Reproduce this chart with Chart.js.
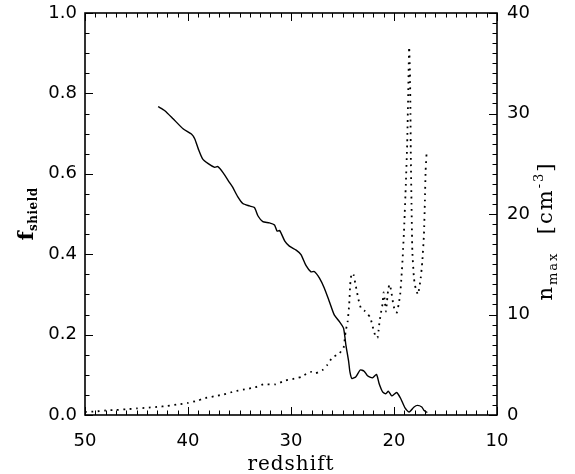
<!DOCTYPE html>
<html>
<head>
<meta charset="utf-8">
<script src="https://cdn.jsdelivr.net/npm/chart.js@4.4.1/dist/chart.umd.min.js"></script>
<style>
  html, body { margin: 0; padding: 0; background: #fff; }
  #wrap { width: 575px; height: 474px; }
</style>
</head>
<body>
<div id="wrap"><canvas id="c" width="575" height="474"></canvas></div>
<script>
// ---- data ----
const zShield = [42.9, 42.25, 41.45, 40.48, 39.67, 39.35, 39.0, 38.6, 38.07, 37.4, 37.1, 36.6, 35.96, 35.65, 35.16, 34.68, 34.03, 33.55, 33.2, 32.74, 32.1, 31.6, 31.35, 31.1, 30.6, 30.16, 29.5, 29.03, 28.55, 28.06, 27.74, 27.25, 26.77, 26.28, 25.8, 25.3, 24.9, 24.67, 24.4, 24.28, 24.09, 23.7, 23.28, 22.9, 22.57, 22.09, 21.7, 21.44, 21.1, 20.8, 20.54, 20.22, 19.74, 19.35, 18.93, 18.54, 18.05, 17.73, 17.3, 17.1, 16.77];
const fShield = [0.767, 0.757, 0.737, 0.712, 0.699, 0.687, 0.662, 0.638, 0.626, 0.616, 0.618, 0.603, 0.578, 0.566, 0.5425, 0.526, 0.52, 0.516, 0.495, 0.481, 0.478, 0.4725, 0.4575, 0.459, 0.4325, 0.42, 0.41, 0.399, 0.372, 0.356, 0.357, 0.341, 0.316, 0.2825, 0.249, 0.2325, 0.216, 0.174, 0.1325, 0.1075, 0.091, 0.095, 0.112, 0.109, 0.0975, 0.0925, 0.101, 0.078, 0.0575, 0.053, 0.059, 0.0475, 0.056, 0.041, 0.0175, 0.0075, 0.02, 0.024, 0.02, 0.012, 0.006];

const zNmax = [50.0, 49.0, 48.0, 47.0, 46.0, 45.0, 44.0, 43.0, 42.0, 41.0, 40.0, 39.0, 38.5, 37.5, 36.5, 35.5, 34.5, 33.5, 32.7, 31.5, 30.5, 29.5, 29.0, 28.4, 28.0, 27.6, 27.2, 26.9, 26.5, 26.0, 25.3, 24.9, 24.7, 24.5, 24.35, 24.25, 24.12, 23.93, 23.7, 23.45, 23.2, 22.9, 22.6, 22.3, 22.1, 21.93, 21.77, 21.6, 21.5, 21.4, 21.28, 21.12, 21.0, 20.88, 20.78, 20.68, 20.55, 20.42, 20.28, 20.1, 19.9, 19.72, 19.55, 19.4, 19.27, 19.15, 19.0, 18.85, 18.72, 18.62, 18.53, 18.45, 18.4, 18.37, 18.3, 18.22, 18.06, 17.9, 17.67, 17.41, 17.25, 17.09, 17.0, 16.93, 16.84];
const nMax = [0.3, 0.35, 0.45, 0.5, 0.57, 0.65, 0.72, 0.8, 0.9, 1.05, 1.2, 1.45, 1.65, 1.85, 2.05, 2.35, 2.55, 2.75, 3.05, 3.05, 3.45, 3.65, 3.8, 4.15, 4.3, 4.15, 4.35, 4.5, 4.95, 5.7, 6.15, 6.65, 8.3, 9.3, 11.0, 13.0, 14.1, 13.95, 12.8, 11.5, 10.6, 10.4, 10.1, 9.7, 8.9, 8.3, 7.7, 7.7, 8.4, 9.3, 10.1, 11.0, 12.2, 11.2, 10.3, 11.3, 12.6, 13.0, 12.4, 11.2, 10.3, 10.2, 11.0, 12.0, 13.8, 15.8, 19.0, 23.0, 27.0, 32.0, 36.6, 34.0, 30.0, 26.0, 21.0, 16.3, 13.6, 12.6, 12.0, 13.6, 15.3, 18.0, 21.3, 24.3, 26.0];

const xTicks = [50, 40, 30, 20, 10];
const yLeftTicks = ["0.0", "0.2", "0.4", "0.6", "0.8", "1.0"];
const yRightTicks = ["0", "10", "20", "30", "40"];

function pairs(xs, ys) {
  const n = Math.min(xs.length, ys.length);
  const out = [];
  for (let i = 0; i < n; i++) out.push({ x: xs[i], y: ys[i] });
  return out;
}

const TICK_FONT = { family: "'DejaVu Sans', sans-serif", size: 18 };

function drawRich(ctx, parts, cx, cy, angle, spacing) {
  ctx.save();
  ctx.translate(cx, cy);
  ctx.rotate(angle);
  ctx.textBaseline = 'alphabetic';
  ctx.textAlign = 'left';
  try { ctx.letterSpacing = spacing + 'px'; } catch (e) {}
  let total = 0;
  const widths = parts.map(p => { ctx.font = p.font; const w = ctx.measureText(p.text).width; total += w; return w; });
  let x = -total / 2;
  parts.forEach((p, i) => {
    ctx.font = p.font;
    ctx.fillText(p.text, x, p.dy || 0);
    x += widths[i];
  });
  ctx.restore();
}

function noPad(s) { s.paddingTop = 0; s.paddingBottom = 0; s.paddingLeft = 0; s.paddingRight = 0; }

const framePlugin = {
  id: 'frame',
  afterDraw(chart) {
    const ctx = chart.ctx;
    const ca = chart.chartArea;
    const xs = chart.scales.x, yl = chart.scales.y, yr = chart.scales.y1;
    ctx.save();
    ctx.strokeStyle = '#000';
    ctx.lineWidth = 1;
    const MAJ = 8, MIN = 4.5;
    ctx.beginPath();
    for (let z = 10; z <= 50; z++) {
      const px = Math.round(xs.getPixelForValue(z)) + 0.5;
      const len = (z % 10 === 0) ? MAJ : MIN;
      ctx.moveTo(px, ca.bottom); ctx.lineTo(px, ca.bottom - len);
      ctx.moveTo(px, ca.top); ctx.lineTo(px, ca.top + len);
    }
    for (let k = 0; k <= 20; k++) {
      const py = Math.round(yl.getPixelForValue(k * 0.05)) + 0.5;
      const len = (k % 4 === 0) ? MAJ : MIN;
      ctx.moveTo(ca.left, py); ctx.lineTo(ca.left + len, py);
    }
    for (let n = 0; n <= 40; n++) {
      const py = Math.round(yr.getPixelForValue(n)) + 0.5;
      const len = (n % 10 === 0) ? MAJ : MIN;
      ctx.moveTo(ca.right, py); ctx.lineTo(ca.right - len, py);
    }
    ctx.stroke();
    ctx.lineWidth = 1.6;
    ctx.strokeRect(ca.left, ca.top, ca.right - ca.left, ca.bottom - ca.top);
    ctx.restore();

    ctx.save();
    ctx.fillStyle = '#000';
    const serif = "'DejaVu Serif', serif";
    drawRich(ctx, [{ text: 'redshift', font: '20px ' + serif }], (ca.left + ca.right) / 2, 470, 0, 1);
    drawRich(ctx, [
      { text: 'f', font: 'bold 21px ' + serif },
      { text: 'shield', font: 'bold 12px ' + serif, dy: 4 }
    ], 33, 214, -Math.PI / 2, 0.5);
    drawRich(ctx, [
      { text: 'n', font: '21px ' + serif },
      { text: 'max', font: '13px ' + serif, dy: 5 },
      { text: '  [cm', font: '21px ' + serif },
      { text: '-3', font: '13px ' + serif, dy: -9 },
      { text: ']', font: '21px ' + serif }
    ], 552, 231, -Math.PI / 2, 2);
    ctx.restore();
  }
};

new Chart(document.getElementById('c'), {
  type: 'line',
  data: {
    datasets: [
      {
        data: pairs(zShield, fShield),
        yAxisID: 'y',
        borderColor: '#000',
        borderWidth: 1.4,
        pointRadius: 0,
        tension: 0.2,
        fill: false
      },
      {
        data: pairs(zNmax, nMax),
        yAxisID: 'y1',
        borderColor: '#000',
        borderWidth: 1.8,
        borderDash: [1.8, 4.6],
        pointRadius: 0,
        tension: 0.15,
        fill: false
      }
    ]
  },
  options: {
    responsive: false,
    animation: false,
    layout: { padding: { top: 13, left: 0, right: 0, bottom: 0 } },
    plugins: { legend: { display: false }, tooltip: { enabled: false } },
    scales: {
      x: {
        type: 'linear',
        min: 10, max: 50,
        reverse: true,
        afterBuildTicks(s) { s.ticks = xTicks.map(v => ({ value: v })); },
        ticks: { font: TICK_FONT, color: '#000', padding: 16, maxRotation: 0, autoSkip: false },
        grid: { display: false, drawTicks: false },
        border: { display: false },
        afterFit(s) { s.height = 59; noPad(s); }
      },
      y: {
        type: 'linear',
        position: 'left',
        min: 0, max: 1,
        afterBuildTicks(s) { s.ticks = yLeftTicks.map(v => ({ value: parseFloat(v) })); },
        ticks: { font: TICK_FONT, color: '#000', padding: 8, callback: (v) => v.toFixed(1) },
        grid: { display: false, drawTicks: false },
        border: { display: false },
        afterFit(s) { s.width = 85; noPad(s); }
      },
      y1: {
        type: 'linear',
        position: 'right',
        min: 0, max: 40,
        afterBuildTicks(s) { s.ticks = yRightTicks.map(v => ({ value: parseFloat(v) })); },
        ticks: { font: TICK_FONT, color: '#000', padding: 10, callback: (v) => String(v) },
        grid: { display: false, drawTicks: false },
        border: { display: false },
        afterFit(s) { s.width = 78; noPad(s); }
      }
    }
  },
  plugins: [framePlugin]
});
</script>
</body>
</html>
